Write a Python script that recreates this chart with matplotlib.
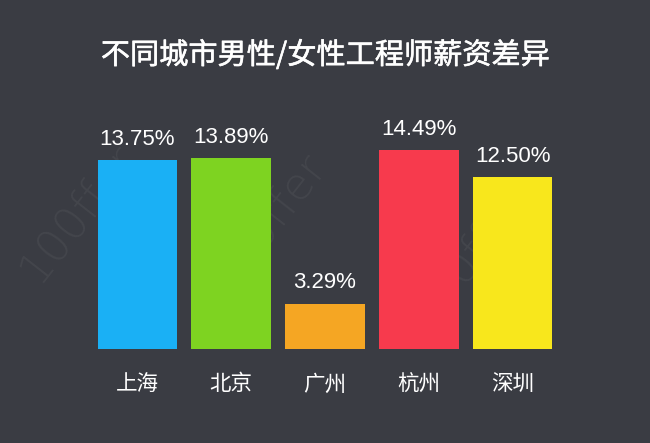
import matplotlib.pyplot as plt
import matplotlib.patheffects as pe

plt.rcParams['font.family'] = ['Noto Sans CJK SC', 'DejaVu Sans']

cities = ["上海", "北京", "广州", "杭州", "深圳"]
gaps = [13.75, 13.89, 3.29, 14.49, 12.50]
colors = ["#1ab0f5", "#7ed321", "#f5a623", "#f73a4d", "#f8e71c"]
bg = "#3a3c43"

# faint watermark spots (figure fraction)
wm_x = [0.12, 0.41, 0.72]
wm_y = [0.52, 0.50, 0.42]

fig = plt.figure(figsize=(6.5, 4.43), dpi=100, facecolor=bg)

for wx, wy in zip(wm_x, wm_y):
    fig.text(wx, wy, "100ffer", ha="center", va="center", rotation=52,
             color="white", alpha=0.05, fontsize=32, family="DejaVu Sans",
             fontweight="light", zorder=-1)

ax = fig.add_axes([0.1394, 0.2122, 0.7212, 0.496])
ax.set_facecolor("none")

x = range(len(cities))
ax.bar(x, gaps, width=0.85, color=colors)
ax.set_xlim(-0.5, 4.5)
ax.set_ylim(0, 16)

for i, v in enumerate(gaps):
    ax.annotate("%.2f%%" % v, (i, v), xytext=(0, 7.5), textcoords="offset points",
                ha="center", va="bottom", color="white", fontsize=16,
                family="Liberation Sans")
    ax.annotate(cities[i], (i, 0), xytext=(0, -25.5), textcoords="offset points",
                ha="center", va="center", color="white", fontsize=15.5)

for s in ax.spines.values():
    s.set_visible(False)
ax.set_xticks([])
ax.set_yticks([])

fig.text(0.5, 0.874, "不同城市男性/女性工程师薪资差异", ha="center", va="center",
         color="white", fontsize=21,
         path_effects=[pe.withStroke(linewidth=0.4, foreground="white")])

fig.savefig("out.png", dpi=100, facecolor=bg)
